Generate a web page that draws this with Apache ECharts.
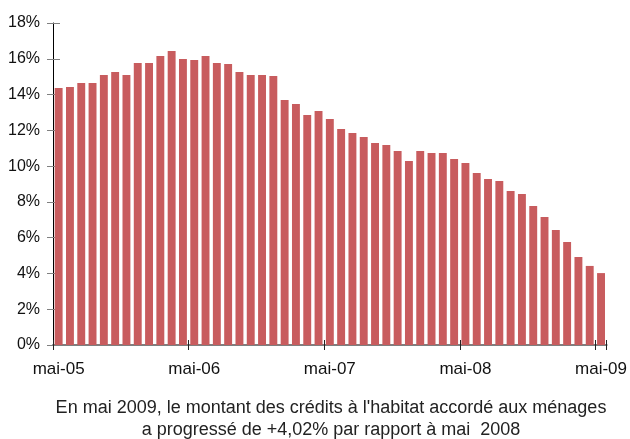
<!DOCTYPE html>
<html>
<head>
<meta charset="utf-8">
<title>Crédits à l'habitat - glissement annuel</title>
<script src="https://cdn.jsdelivr.net/npm/echarts@6/dist/echarts.min.js"></script>
<style>
  html, body { margin: 0; padding: 0; background: #fff; }
  #chart { width: 630px; height: 439px; }
</style>
</head>
<body>
<div id="chart"></div>
<script>
// mois de mai 2005 à mai 2009
const monthNames = ['mai', 'juin', 'juil', 'août', 'sept', 'oct', 'nov', 'déc', 'janv', 'févr', 'mars', 'avr']
const years = ['05', '06', '07', '08', '09']
const months = []
for (let i = 0; i < 49; i++) {
  const y = years[Math.floor((i + 4) / 12)]
  months.push(monthNames[i % 12] + '-' + y)
}

// glissement annuel des crédits à l'habitat (%)
const growth = [
  14.37, 14.42, 14.65, 14.65, 15.09, 15.26, 15.09, 15.76, 15.76, 16.15, 16.43, 15.99,
  15.93, 16.15, 15.76, 15.71, 15.26, 15.09, 15.09, 15.04, 13.69, 13.47, 12.86, 13.08,
  12.63, 12.07, 11.85, 11.63, 11.29, 11.18, 10.84, 10.29, 10.84, 10.73, 10.73, 10.40,
  10.17, 9.61, 9.28, 9.17, 8.61, 8.44, 7.77, 7.16, 6.43, 5.76, 4.92, 4.42, 4.02
]

const captionLines = [
  "En mai 2009, le montant des crédits à l'habitat accordé aux ménages",
  'a progressé de +4,02% par rapport à mai  2008'
]

const chart = echarts.init(document.getElementById('chart'))

const font = '"Liberation Sans", Arial, sans-serif'

const option = {
  animation: false,
  backgroundColor: '#fff',
  textStyle: { fontFamily: font },
  grid: { left: 53, right: 23, top: 23, bottom: 94, containLabel: false },
  xAxis: [
    {
      type: 'category',
      data: months,
      boundaryGap: true,
      axisLine: { show: true, lineStyle: { color: '#7f7f7f', width: 2 } },
      axisTick: { show: true, interval: 11, length: 5, alignWithLabel: false, lineStyle: { color: '#222', width: 1 } },
      axisLabel: { interval: 11, margin: 16, color: '#111', fontSize: 17, fontFamily: font },
      splitLine: { show: false }
    },
    {
      // petits traits vers l'intérieur (graduations croisées)
      type: 'category',
      data: months,
      position: 'bottom',
      boundaryGap: true,
      axisLine: { show: false },
      axisTick: { show: true, inside: true, interval: 11, length: 5, lineStyle: { color: '#222', width: 1 } },
      axisLabel: { show: false },
      splitLine: { show: false }
    }
  ],
  yAxis: [
    {
      type: 'value',
      min: 0,
      max: 18,
      interval: 2,
      axisLine: { show: true, lineStyle: { color: '#000', width: 1 } },
      axisTick: { show: true, length: 6, lineStyle: { color: '#808080', width: 1 } },
      axisLabel: { formatter: '{value}%', margin: 13, color: '#111', fontSize: 16, fontFamily: font },
      splitLine: { show: false }
    },
    {
      type: 'value',
      position: 'left',
      min: 0,
      max: 18,
      interval: 2,
      axisLine: { show: false },
      axisTick: { show: true, inside: true, length: 7, lineStyle: { color: '#808080', width: 1 } },
      axisLabel: { show: false },
      splitLine: { show: false }
    }
  ],
  series: [
    {
      type: 'bar',
      xAxisIndex: 0,
      yAxisIndex: 0,
      data: growth,
      barCategoryGap: '30%',
      itemStyle: { color: '#C85C5E' }
    }
  ],
  graphic: captionLines.map((line, i) => ({
    type: 'text',
    x: 331,
    y: 408 + i * 22,
    style: {
      text: line,
      fill: '#222',
      font: '18px ' + font,
      textAlign: 'center',
      textVerticalAlign: 'middle'
    }
  }))
}

chart.setOption(option)
</script>
</body>
</html>
